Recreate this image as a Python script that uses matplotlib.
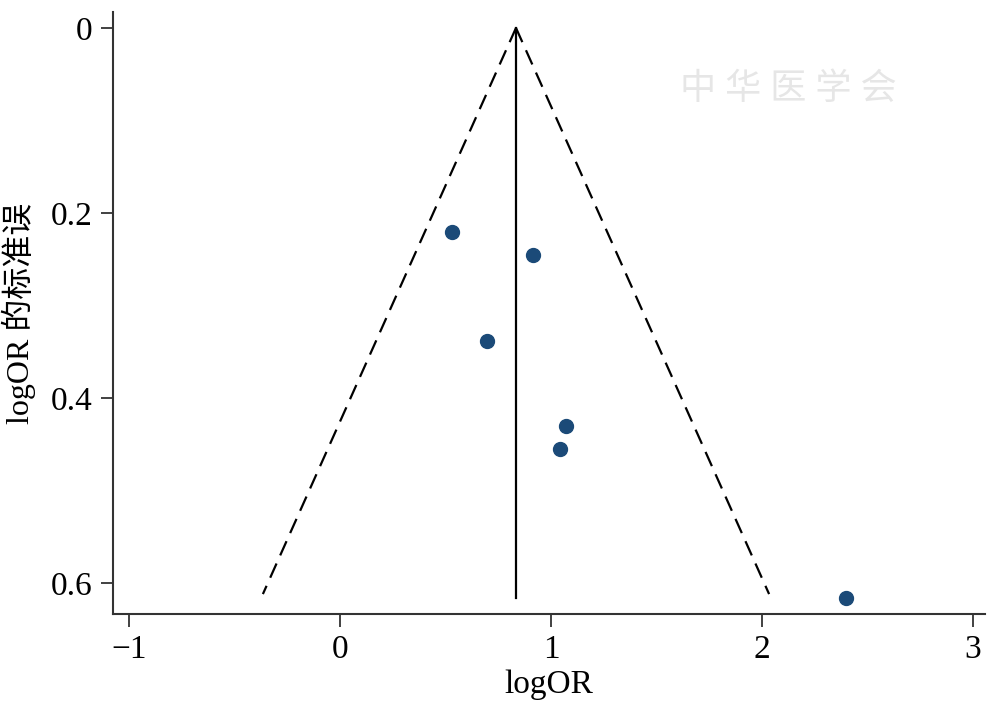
import matplotlib.pyplot as plt
import numpy as np

plt.rcParams['font.family'] = ['Liberation Serif', 'Noto Sans CJK SC']

# study estimates (logOR) and their standard errors
log_or = [0.531, 0.915, 0.697, 1.071, 1.043, 2.398]
se = [0.2205, 0.2454, 0.338, 0.430, 0.455, 0.616]

# pooled estimate and funnel extent
pooled = 0.834
se_max = 0.612
se_line_end = 0.616

xticks = [-1, 0, 1, 2, 3]
yticks = [0, 0.2, 0.4, 0.6]

fig = plt.figure(figsize=(9.91, 7.02), dpi=100)
ax = fig.add_axes([0.114, 0.1254, 0.88, 0.8576])

s_range = np.array([0, se_max])
ax.plot(pooled - 1.96 * s_range, s_range, color='black', lw=1.6, ls=(0, (7, 4)))
ax.plot(pooled + 1.96 * s_range, s_range, color='black', lw=1.6, ls=(0, (7, 4)))
ax.plot([pooled, pooled], [0, se_line_end], color='black', lw=1.6)

ax.scatter(log_or, se, s=100, color='#1b4a78', zorder=3)

ax.set_xlim(-1.076, 3.057)
ax.set_ylim(0.6335, -0.0173)
ax.set_xticks(xticks)
ax.set_xticklabels(['\u22121', '0', '1', '2', '3'])
ax.set_yticks(yticks)
ax.set_yticklabels(['0', '0.2', '0.4', '0.6'])

for side in ['top', 'right']:
    ax.spines[side].set_visible(False)
for side in ['left', 'bottom']:
    ax.spines[side].set_linewidth(1.5)
    ax.spines[side].set_color('#333333')

ax.tick_params(axis='both', labelsize=24, width=1.3, length=9, color='#333333', pad=6)
ax.set_xlabel('logOR', fontsize=24, labelpad=3)
ax.set_ylabel('logOR 的标准误', fontsize=23, labelpad=10)

# faint watermark
fig.text(0.795, 0.872, '中 华 医 学 会', fontsize=26, color='#e6e6e6',
         ha='center', va='center', style='italic', zorder=0)

fig.savefig('out.png', dpi=100)
